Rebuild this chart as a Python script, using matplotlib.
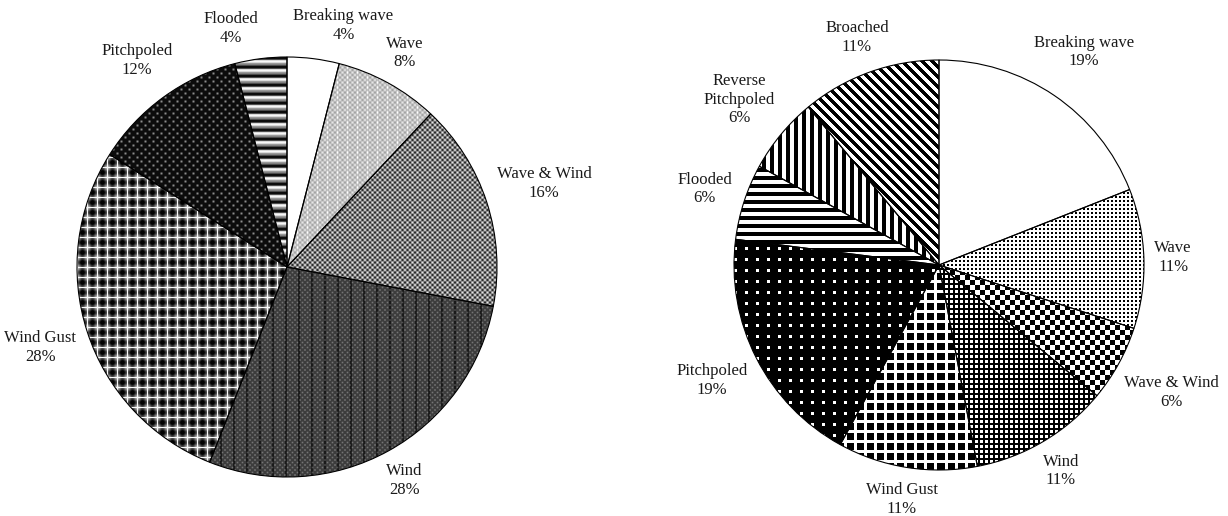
import matplotlib.pyplot as plt
import numpy as np

W, H = 1228, 516

left_names = ["Breaking wave", "Wave", "Wave & Wind", "Wind", "Wind Gust", "Pitchpoled", "Flooded"]
left_pct = [4, 8, 16, 28, 28, 12, 4]
left_fill = ["white", "light", "checker", "dark", "plaid", "blackdots", "stripes"]

right_names = ["Breaking wave", "Wave", "Wave & Wind", "Wind", "Wind Gust",
               "Pitchpoled", "Flooded", "Reverse\nPitchpoled", "Broached"]
right_pct = [19, 11, 6, 11, 11, 19, 6, 6, 11]
right_fill = ["white", "dots", "checker", "finegrid", "grid", "whitedots", "hstripe", "vstripe", "diag"]


def soft_tex(kind, n):
    # greyish, blurred Excel-like pattern fills (left chart)
    y, x = np.indices((n, n)).astype(float)
    cx = np.cos(2 * np.pi * x / 5)
    cy = np.cos(2 * np.pi * y / 5)
    if kind == "white":
        v = np.ones((n, n))
    elif kind == "light":
        v = 0.76 + 0.14 * cx * cy + 0.12 * (x % 10 < 1)
    elif kind == "checker":
        v = 0.5 + 0.4 * cx * cy
    elif kind == "dark":
        v = 0.24 + 0.22 * np.clip(cx * cy, 0, 1) - 0.14 * (x % 13 < 1.5)
    elif kind == "plaid":
        gx = np.cos(2 * np.pi * x / 10)
        gy = np.cos(2 * np.pi * y / 10)
        v = 0.32 + 0.22 * (gx + gy)
        v[(x % 10 < 1) | (y % 10 < 1)] = 0.97
    elif kind == "blackdots":
        d = np.cos(2 * np.pi * x / 8) * np.cos(2 * np.pi * y / 8)
        v = 0.05 + 0.5 * np.clip(d, 0, 1) ** 2
    else:
        prof = np.array([0.05, 0.05, 0.3, 0.85, 0.97, 0.85, 0.6, 0.5, 0.3])
        v = prof[(y % 9).astype(int)]
    return np.clip(v, 0, 1)


def hard_tex(kind, n):
    # crisp black and white pattern fills (right chart)
    y, x = np.indices((n, n))
    if kind == "white":
        v = np.ones((n, n), bool)
    elif kind == "dots":
        v = ~((x % 4 < 2) & (y % 4 < 2))
    elif kind == "checker":
        v = (x // 5 + y // 5) % 2 == 0
    elif kind == "finegrid":
        v = (x % 5 < 3) & (y % 5 < 3)
    elif kind == "grid":
        v = (x % 10 < 3) | (y % 10 < 3)
    elif kind == "whitedots":
        v = (x % 11 < 3) & (y % 11 < 3)
    elif kind == "hstripe":
        v = y % 8 < 4
    elif kind == "vstripe":
        v = x % 8 < 4
    else:
        v = (x - y) % 10 < 5
    return v.astype(float)


def place_labels(fig, ax, wedges, texts, r, gap=10, pad=35):
    # put each label box just outside the rim, like Excel does
    rend = fig.canvas.get_renderer()
    for w, t in zip(wedges, texts):
        t.set_horizontalalignment("center")
        t.set_verticalalignment("center")
        bb = t.get_window_extent(rend)
        ang = np.deg2rad((w.theta1 + w.theta2) / 2)
        d = r + gap + 0.5 * bb.width * abs(np.cos(ang)) + 0.5 * bb.height * abs(np.sin(ang))
        t.set_position((d / r * np.cos(ang), d / r * np.sin(ang)))
    # push apart neighbouring labels that collide
    inv = ax.transData.inverted()
    for a, b in zip(texts, texts[1:] + texts[:1]):
        ba, bb = a.get_window_extent(rend), b.get_window_extent(rend)
        if ba.overlaps(bb):
            lt, rt = (a, b) if ba.x0 < bb.x0 else (b, a)
            bl, br = lt.get_window_extent(rend), rt.get_window_extent(rend)
            need = bl.x1 - br.x0 + pad
            for t, dx in ((lt, -need / 2), (rt, need / 2)):
                px, py = ax.transData.transform(t.get_position())
                t.set_position(inv.transform((px + dx, py)))


def draw_pie(fig, cx, cy, r, values, names, fills, texfunc, interp):
    s = 262
    ax = fig.add_axes([(cx - s) / W, 1 - (cy + s) / H, 2 * s / W, 2 * s / H])
    labels = [f"{nm}\n{v}%" for nm, v in zip(names, values)]
    wedges, texts = ax.pie(values, labels=labels, startangle=90, counterclock=False,
                           labeldistance=1.2,
                           wedgeprops=dict(facecolor="none", edgecolor="black", linewidth=0.8),
                           textprops=dict(family="Liberation Serif", fontsize=12,
                                          color="#1a1a1a", linespacing=1.22))
    n = int(2 * r)
    for w, f in zip(wedges, fills):
        im = ax.imshow(texfunc(f, n), cmap="gray", vmin=0, vmax=1,
                       extent=(-1, 1, -1, 1), interpolation=interp, zorder=0)
        im.set_clip_path(w)
    k = s / r
    ax.set_xlim(-k, k)
    ax.set_ylim(-k, k)
    ax.axis("off")
    fig.canvas.draw()
    place_labels(fig, ax, wedges, texts, r)
    return ax


fig = plt.figure(figsize=(W / 100, H / 100), dpi=100)
draw_pie(fig, 287, 267, 210, left_pct, left_names, left_fill, soft_tex, "bilinear")
draw_pie(fig, 939, 265, 205, right_pct, right_names, right_fill, hard_tex, "nearest")

fig.savefig("out.png", dpi=100)
